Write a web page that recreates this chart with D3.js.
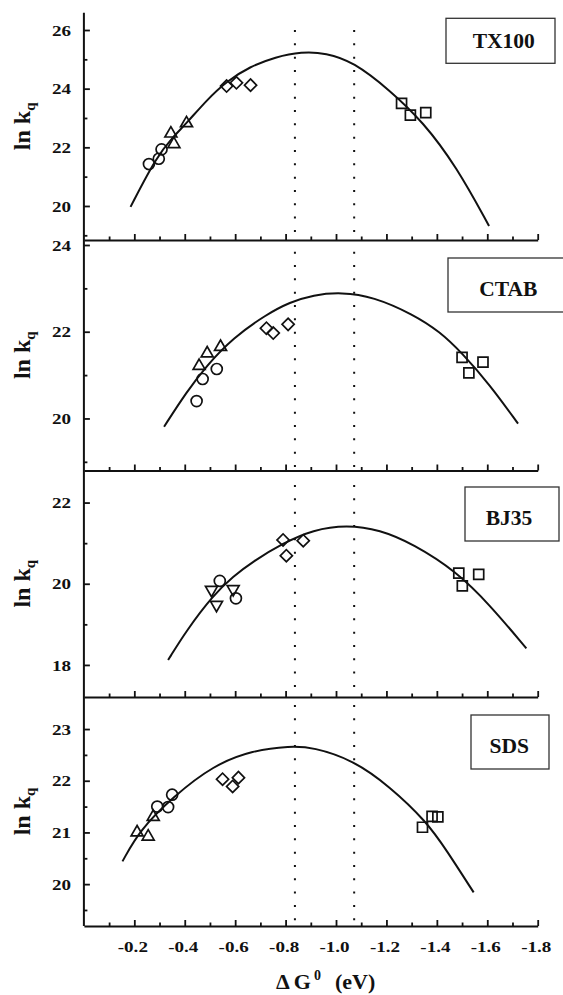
<!DOCTYPE html>
<html>
<head>
<meta charset="utf-8">
<script src="https://cdn.jsdelivr.net/npm/d3@7"></script>
<style>
    body{margin:0;background:#fff;}
    text{font-family:"Liberation Serif","Times New Roman",serif;font-weight:bold;fill:#111;}
</style>
</head>
<body>
<script>
//values: x = delta G0 (eV), y = ln kq

var panelNames = ["TX100", "CTAB", "BJ35", "SDS"];

var xTicks = [-0.2, -0.4, -0.6, -0.8, -1.0, -1.2, -1.4, -1.6, -1.8];
var xMinorTicks = [-0.1, -0.3, -0.5, -0.7, -0.9, -1.1, -1.3, -1.5, -1.7];
var dottedX = [-0.837, -1.072];

var yDomains = [[18.84, 26.59], [18.80, 24.115], [17.21, 22.79], [19.19, 23.62]];
var yTicks = [[20, 22, 24, 26], [20, 22, 24], [18, 20, 22], [20, 21, 22, 23]];
var yMinorTicks = [[19, 21, 23, 25], [19, 21, 23], [19, 21], [19.5, 20.5, 21.5, 22.5]];

var circles = [
    [[-0.258, 21.43], [-0.297, 21.61], [-0.308, 21.93]],
    [[-0.447, 20.40], [-0.471, 20.91], [-0.527, 21.14]],
    [[-0.539, 20.07], [-0.603, 19.64]],
    [[-0.291, 21.50], [-0.334, 21.49], [-0.350, 21.73]]
];
var upTriangles = [
    [[-0.345, 22.47], [-0.357, 22.11], [-0.407, 22.82]],
    [[-0.457, 21.21], [-0.489, 21.50], [-0.542, 21.65]],
    [],
    [[-0.211, 21.00], [-0.255, 20.92], [-0.275, 21.30]]
];
var downTriangles = [
    [],
    [],
    [[-0.506, 19.85], [-0.526, 19.48], [-0.592, 19.87]],
    []
];
var diamonds = [
    [[-0.566, 24.09], [-0.605, 24.20], [-0.661, 24.12]],
    [[-0.724, 22.08], [-0.751, 21.97], [-0.810, 22.17]],
    [[-0.790, 21.08], [-0.803, 20.69], [-0.870, 21.06]],
    [[-0.550, 22.03], [-0.590, 21.89], [-0.613, 22.06]]
];
var squares = [
    [[-1.260, 23.50], [-1.295, 23.10], [-1.356, 23.18]],
    [[-1.500, 21.41], [-1.527, 21.05], [-1.583, 21.30]],
    [[-1.487, 20.26], [-1.501, 19.95], [-1.566, 20.23]],
    [[-1.343, 21.10], [-1.381, 21.31], [-1.404, 21.30]]
];

//fitted curves, points
var fitCurves = [
    [[-0.185, 19.97], [-0.288, 21.68], [-0.354, 22.36], [-0.407, 22.82], [-0.487, 23.61], [-0.566, 24.25],
     [-0.658, 24.75], [-0.760, 25.08], [-0.863, 25.26], [-0.960, 25.22], [-1.068, 24.92], [-1.213, 23.95],
     [-1.345, 22.87], [-1.478, 21.34], [-1.607, 19.32]],
    [[-0.318, 19.81], [-0.407, 20.61], [-0.487, 21.22], [-0.592, 21.86], [-0.724, 22.40], [-0.817, 22.68],
     [-0.909, 22.85], [-1.022, 22.91], [-1.147, 22.81], [-1.306, 22.40], [-1.412, 22.00], [-1.498, 21.52],
     [-1.610, 20.78], [-1.722, 19.88]],
    [[-0.334, 18.12], [-0.407, 18.85], [-0.513, 19.72], [-0.592, 20.18], [-0.671, 20.55], [-0.790, 21.00],
     [-0.909, 21.33], [-1.042, 21.45], [-1.174, 21.33], [-1.306, 20.98], [-1.478, 20.30], [-1.610, 19.48],
     [-1.755, 18.41]],
    [[-0.153, 20.44], [-0.222, 21.05], [-0.354, 21.69], [-0.513, 22.30], [-0.671, 22.59], [-0.817, 22.67],
     [-0.909, 22.65], [-1.068, 22.40], [-1.213, 21.89], [-1.359, 21.21], [-1.438, 20.66], [-1.546, 19.84]]
];

window.onload = setChart();

function setChart(){

    var width = 563,
        height = 995;

    //panel frames (pixels)
    var panelTop = [12.7, 240, 470.5, 697],
        panelBottom = [240, 470.5, 697, 926],
        dotStart = [30, 251.7, 485, 705];

    //label boxes [x, y, w, h] and text anchor [x, baseline]
    var boxes = [[446, 18.3, 109, 45], [448, 258, 122, 54], [465, 487, 94, 54], [471, 715, 78, 54]],
        boxText = [[503.7, 48.3], [508.3, 295.6], [509, 525], [509.3, 753.3]];

    var svg = d3.select("body")
        .append("svg")
        .attr("width", width)
        .attr("height", height);

    var x = d3.scaleLinear()
        .domain([0, -1.8])
        .range([83.9, 537.7]);

    var ink = "#111";

    panelNames.forEach(function(name, i){

        var y = d3.scaleLinear()
            .domain(yDomains[i])
            .range([panelBottom[i], panelTop[i]]);

        var g = svg.append("g").attr("class", "panel");

        //dotted guide lines
        g.selectAll(".guide")
            .data(dottedX)
            .enter()
            .append("line")
            .attr("class", "guide")
            .attr("x1", function(d){ return x(d); })
            .attr("x2", function(d){ return x(d); })
            .attr("y1", dotStart[i])
            .attr("y2", panelBottom[i] - 3)
            .attr("stroke", ink)
            .attr("stroke-width", 2)
            .attr("stroke-dasharray", "2 11.33");

        //left axis ticks, pointing inward
        var yAxis = g.append("g")
            .attr("transform", "translate(" + x(0) + ",0)")
            .call(d3.axisLeft(y).tickValues(yTicks[i]).tickSizeInner(-6).tickSizeOuter(0).tickFormat(d3.format("d")));
        yAxis.select(".domain").remove();
        yAxis.selectAll("line").attr("stroke", ink).attr("stroke-width", 1.8);
        yAxis.selectAll("text")
            .attr("x", -13 / 1.27)
            .attr("dy", "0.34em")
            .attr("transform", "scale(1.27,1)")
            .style("font-size", "15px")
            .style("font-family", null);

        var yMinor = g.append("g")
            .attr("transform", "translate(" + x(0) + ",0)")
            .call(d3.axisLeft(y).tickValues(yMinorTicks[i]).tickSizeInner(-3.5).tickSizeOuter(0).tickFormat(""));
        yMinor.select(".domain").remove();
        yMinor.selectAll("line").attr("stroke", ink).attr("stroke-width", 1.8);

        //bottom axis of the panel, ticks pointing up
        var last = i == panelNames.length - 1;
        var xAxis = g.append("g")
            .attr("transform", "translate(0," + panelBottom[i] + ")")
            .call(d3.axisBottom(x).tickValues(xTicks).tickSizeInner(-6).tickSizeOuter(0)
                .tickFormat(last ? function(d){ return d.toFixed(1); } : ""));
        xAxis.select(".domain").attr("stroke", ink).attr("stroke-width", 2);
        xAxis.selectAll("line").attr("stroke", ink).attr("stroke-width", 1.8);
        xAxis.selectAll("text")
            .attr("x", -2 / 1.27)
            .attr("y", 25.7)
            .attr("dy", 0)
            .attr("transform", "scale(1.27,1)")
            .style("font-size", "15px")
            .style("font-family", null);

        var xMinor = g.append("g")
            .attr("transform", "translate(0," + panelBottom[i] + ")")
            .call(d3.axisBottom(x).tickValues(xMinorTicks).tickSizeInner(-3.5).tickSizeOuter(0).tickFormat(""));
        xMinor.select(".domain").remove();
        xMinor.selectAll("line").attr("stroke", ink).attr("stroke-width", 1.8);

        //fitted curve
        var line = d3.line()
            .x(function(d){ return x(d[0]); })
            .y(function(d){ return y(d[1]); })
            .curve(d3.curveBasis);

        g.append("path")
            .datum(fitCurves[i])
            .attr("d", line)
            .attr("fill", "none")
            .attr("stroke", ink)
            .attr("stroke-width", 2);

        //open markers
        var markerSets = [
            {data: circles[i], type: d3.symbolCircle, size: 95, rot: 0},
            {data: upTriangles[i], type: d3.symbolTriangle, size: 62, rot: 0},
            {data: downTriangles[i], type: d3.symbolTriangle, size: 62, rot: 180},
            {data: diamonds[i], type: d3.symbolSquare, size: 74, rot: 45},
            {data: squares[i], type: d3.symbolSquare, size: 100, rot: 0}
        ];

        markerSets.forEach(function(m){
            g.selectAll(null)
                .data(m.data)
                .enter()
                .append("path")
                .attr("d", d3.symbol().type(m.type).size(m.size))
                .attr("transform", function(d){
                    return "translate(" + x(d[0]) + "," + y(d[1]) + ") rotate(" + m.rot + ")";
                })
                .attr("fill", "none")
                .attr("stroke", ink)
                .attr("stroke-width", 1.7);
        });

        //name box
        g.append("rect")
            .attr("x", boxes[i][0])
            .attr("y", boxes[i][1])
            .attr("width", boxes[i][2])
            .attr("height", boxes[i][3])
            .attr("fill", "none")
            .attr("stroke", "#333")
            .attr("stroke-width", 1.3);

        g.append("text")
            .attr("x", boxText[i][0])
            .attr("y", boxText[i][1])
            .attr("text-anchor", "middle")
            .style("font-size", "21.5px")
            .text(name);

        //y title
        var yMid = (panelTop[i] + panelBottom[i]) / 2;
        var yt = g.append("text")
            .attr("transform", "translate(30," + yMid + ") rotate(-90)")
            .attr("text-anchor", "middle")
            .style("font-size", "24px");
        yt.append("tspan").text("ln k");
        yt.append("tspan").attr("dy", 5).style("font-size", "15px").text("q");
    });

    //left axis line through all panels
    svg.append("line")
        .attr("x1", x(0))
        .attr("x2", x(0))
        .attr("y1", panelTop[0])
        .attr("y2", panelBottom[3])
        .attr("stroke", ink)
        .attr("stroke-width", 2);

    //x title
    var xt = svg.append("text")
        .attr("x", 276)
        .attr("y", 989)
        .style("font-size", "22px");
    xt.append("tspan").text("\u0394");
    xt.append("tspan").attr("dx", 4).text("G");
    xt.append("tspan").attr("dx", 3).attr("dy", -9).style("font-size", "14px").text("0");
    xt.append("tspan").attr("dx", 14).attr("dy", 9).text("(eV)");
};
</script>
</body>
</html>
